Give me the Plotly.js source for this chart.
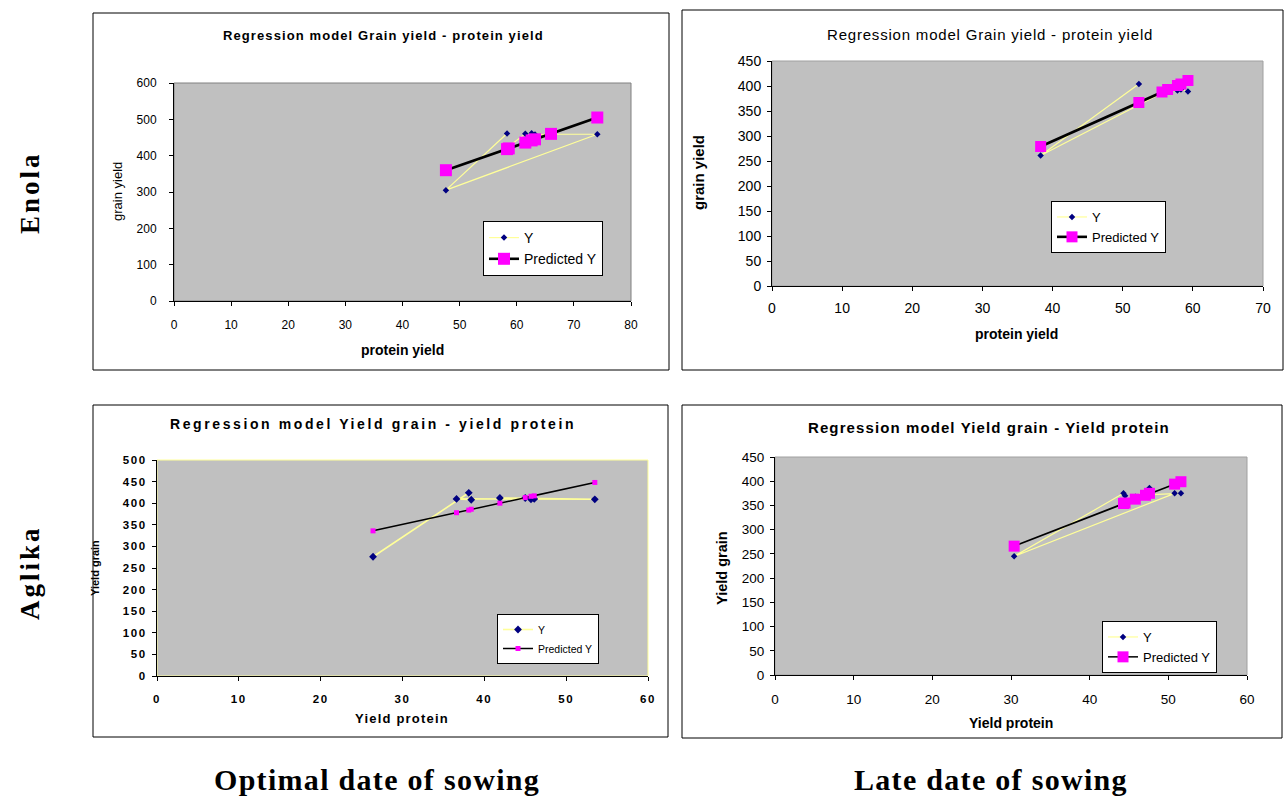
<!DOCTYPE html>
<html>
<head>
<meta charset="utf-8">
<script src="https://cdn.plot.ly/plotly-3.0.1.min.js"></script>
<style>
  html, body { margin: 0; padding: 0; background: #ffffff; }
  #chart { width: 1285px; height: 796px; }
  .x3tick text, .y3tick text { letter-spacing: 1.6px; }
  g.legend3 text.legendtext { letter-spacing: 1.4px; }
</style>
</head>
<body>
<div id="chart"></div>
<script>
// ---------------- DATA ----------------
// Enola, optimal date of sowing
const enolaOptProtein = [58.6, 61.5, 62.6, 63.2, 66.0, 74.1, 47.6, 58.3];
const enolaOptGrain   = [425, 460, 462, 458, 459, 459, 305, 461];
const enolaOptPred    = [420, 436, 442, 445, 460, 505, 360, 418];

// Enola, late date of sowing
const enolaLateProtein = [52.3, 38.3, 55.6, 56.4, 57.8, 58.3, 59.3];
const enolaLateGrain   = [404, 261, 386, 390, 391, 393, 389];
const enolaLatePred    = [367, 279, 388, 393, 401, 404, 411];

// Aglika, optimal date of sowing
const aglikaOptProtein = [26.4, 38.1, 38.4, 36.6, 53.5, 41.9, 45.7, 46.1, 45.0];
const aglikaOptGrain   = [276, 424, 408, 410, 409, 412, 409, 410, 412];
const aglikaOptPred    = [336, 384, 386, 378, 448, 400, 416, 417, 413];

// Aglika, late date of sowing
const aglikaLateProtein = [44.5, 44.3, 30.4, 50.8, 51.6, 47.1, 47.6, 45.8];
const aglikaLateGrain   = [370, 375, 245, 375, 375, 372, 386, 368];
const aglikaLatePred    = [355, 354, 266, 394, 399, 371, 375, 363];

const seriesNames = ["Y", "Predicted Y"];
const panelTitles = [
  "Regression model Grain yield - protein yield",
  "Regression model Grain yield - protein yield",
  "Regression model Yield grain - yield protein",
  "Regression model Yield grain - Yield protein"
];
const xTitles = ["protein yield", "protein yield", "Yield protein", "Yield protein"];
const yTitles = ["grain yield", "grain yield", "Yield grain", "Yield grain"];
const rowLabels = ["Enola", "Aglika"];
const colLabels = ["Optimal date of sowing", "Late date of sowing"];

// ---------------- HELPERS ----------------
const W = 1285, H = 796;
const px = v => v / W;
const py = v => 1 - v / H;
const SANS = "Liberation Sans, Arial, sans-serif";
const SERIF = "Liberation Serif, Times New Roman, serif";
const YELLOW = "#ffff99";
const NAVY = "#000080";
const MAGENTA = "#ff00ff";
const sp = (t, s) => '<span style="letter-spacing:' + s + 'px">' + t + '</span>';

function pair(xs, ys, ps, k, opts) {
  const s = k === 1 ? "" : String(k);
  return [
    { type: "scatter", mode: "lines+markers", name: seriesNames[0],
      x: xs, y: ys, xaxis: "x" + s, yaxis: "y" + s, legend: "legend" + s,
      line: { color: YELLOW, width: opts.yw },
      marker: { symbol: "diamond", color: NAVY, size: opts.ym } },
    { type: "scatter", mode: "lines+markers", name: seriesNames[1],
      x: xs, y: ps, xaxis: "x" + s, yaxis: "y" + s, legend: "legend" + s,
      line: { color: "#000000", width: opts.pw },
      marker: { symbol: "square", color: MAGENTA, size: opts.pm } }
  ];
}

const traces = [].concat(
  pair(enolaOptProtein, enolaOptGrain, enolaOptPred, 1, { yw: 1.2, ym: 5, pw: 2.6, pm: 12 }),
  pair(enolaLateProtein, enolaLateGrain, enolaLatePred, 2, { yw: 1.2, ym: 5, pw: 2.6, pm: 11 }),
  pair(aglikaOptProtein, aglikaOptGrain, aglikaOptPred, 3, { yw: 1.6, ym: 6, pw: 1.5, pm: 5 }),
  pair(aglikaLateProtein, aglikaLateGrain, aglikaLatePred, 4, { yw: 1.2, ym: 5, pw: 1.5, pm: 11 })
);

function axis(domain, range, dtick, fontSize, bold, anchor, standoff) {
  return {
    domain: domain, range: range, dtick: dtick, tick0: 0, anchor: anchor,
    showgrid: false, zeroline: false, showline: true, linecolor: "#000000", linewidth: 1,
    ticks: "outside", ticklen: 4, tickcolor: "#000000", tickwidth: 1,
    ticklabelstandoff: standoff,
    tickfont: { family: SANS, size: fontSize, color: "#000000", weight: bold ? "bold" : "normal" },
    fixedrange: true
  };
}

// panel pixel geometry (plot areas)
const P = [
  { l: 174, r: 631, t: 83, b: 301 },
  { l: 772, r: 1263, t: 61, b: 286 },
  { l: 157, r: 648, t: 460, b: 676 },
  { l: 775, r: 1247, t: 457, b: 675 }
];
const dx = p => [px(p.l), px(p.r)];
const dy = p => [py(p.b), py(p.t)];

function legendAt(x, y, size) {
  return {
    x: px(x), y: py(y), xanchor: "left", yanchor: "top", xref: "paper", yref: "paper",
    bgcolor: "#ffffff", bordercolor: "#000000", borderwidth: 1,
    font: { family: SANS, size: size, color: "#000000" },
    tracegroupgap: 0, itemwidth: 30
  };
}

function ann(text, x, y, size, opts) {
  opts = opts || {};
  return Object.assign({
    text: text, x: px(x), y: py(y), xref: "paper", yref: "paper",
    xanchor: "center", yanchor: "middle", showarrow: false,
    font: { family: opts.family || SANS, size: size, color: "#000000", weight: opts.bold ? "bold" : "normal" }
  }, opts.extra || {});
}

const annotations = [
  // panel titles
  ann(sp(panelTitles[0], 1.1), 383, 36, 13, { bold: true }),
  ann(sp(panelTitles[1], 0.8), 990, 34, 15),
  ann(sp(panelTitles[2], 2.6), 373, 424, 14, { bold: true }),
  ann(sp(panelTitles[3], 1.1), 989, 427, 15, { bold: true }),
  // axis titles
  ann(xTitles[0], 402, 350, 14, { bold: true }),
  ann(yTitles[0], 118, 192, 13, { extra: { textangle: -90 } }),
  ann(xTitles[1], 1016, 334, 14, { bold: true }),
  ann(yTitles[1], 698, 173, 15, { bold: true, extra: { textangle: -90 } }),
  ann(sp(xTitles[2], 1.2), 402, 718, 13, { bold: true }),
  ann(yTitles[2], 95, 568, 11, { bold: true, extra: { textangle: -90 } }),
  ann(xTitles[3], 1011, 723, 14, { bold: true }),
  ann(yTitles[3], 722, 568, 14.5, { bold: true, extra: { textangle: -90 } }),
  // row labels
  ann(sp(rowLabels[0], 3), 30, 193, 27, { bold: true, family: SERIF, extra: { textangle: -90 } }),
  ann(sp(rowLabels[1], 3), 30, 573, 27, { bold: true, family: SERIF, extra: { textangle: -90 } }),
  // column labels
  ann(sp(colLabels[0], 1.3), 377, 779, 30, { bold: true, family: SERIF }),
  ann(sp(colLabels[1], 1.3), 991, 779, 30, { bold: true, family: SERIF })
];

function frame(l, t, r, b) {
  return { type: "rect", xref: "paper", yref: "paper", x0: px(l), x1: px(r), y0: py(b), y1: py(t),
    line: { color: "#000000", width: 1 }, fillcolor: "rgba(0,0,0,0)", layer: "below" };
}
function areaBorder(k, color) {
  const s = k === 1 ? "" : k;
  return { type: "rect", xref: "x" + s + " domain", yref: "y" + s + " domain",
    x0: 0, x1: 1, y0: 0, y1: 1, line: { color: color, width: 1 }, layer: "below" };
}

const layout = {
  width: W, height: H,
  margin: { l: 0, r: 0, t: 0, b: 0 },
  paper_bgcolor: "#ffffff",
  plot_bgcolor: "#c0c0c0",
  showlegend: true,
  xaxis:  axis(dx(P[0]), [0, 80], 10, 12, false, "y", 9),
  yaxis:  axis(dy(P[0]), [0, 600], 100, 12, false, "x", 10),
  xaxis2: axis(dx(P[1]), [0, 70], 10, 14, false, "y2", 5),
  yaxis2: axis(dy(P[1]), [0, 450], 50, 14, false, "x2", 3),
  xaxis3: axis(dx(P[2]), [0, 60], 10, 11.5, true, "y3", 8),
  yaxis3: axis(dy(P[2]), [0, 500], 50, 11.5, true, "x3", 3),
  xaxis4: axis(dx(P[3]), [0, 60], 10, 13.5, false, "y4", 8),
  yaxis4: axis(dy(P[3]), [0, 450], 50, 13.5, false, "x4", 3),
  legend:  legendAt(483, 221, 14),
  legend2: legendAt(1051, 201, 13),
  legend3: legendAt(497, 614, 10.5),
  legend4: legendAt(1102, 621, 13),
  annotations: annotations,
  shapes: [
    frame(93, 13, 669, 370),
    frame(682, 10, 1283, 370),
    frame(93, 405, 668, 737),
    frame(682, 405, 1282, 738),
    areaBorder(1, "#808080"),
    areaBorder(2, "#a0a0a0"),
    areaBorder(3, YELLOW),
    areaBorder(4, "#a0a0a0")
  ]
};

Plotly.newPlot("chart", traces, layout, { displayModeBar: false, staticPlot: true });
</script>
</body>
</html>
